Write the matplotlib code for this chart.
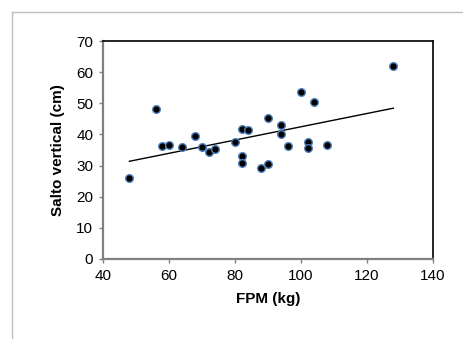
import numpy as np
import matplotlib.pyplot as plt
from matplotlib.lines import Line2D

plt.rcParams['font.family'] = ['Liberation Sans', 'DejaVu Sans']

# FPM (kg) vs salto vertical (cm)
fpm = [48, 56, 58, 60, 64, 68, 70, 72, 74, 80, 82, 84, 82, 82, 88,
       90, 90, 94, 94, 96, 100, 102, 102, 104, 108, 128]
salto = [26.1, 48.3, 36.2, 36.6, 35.9, 39.6, 35.9, 34.5, 35.4, 37.6, 41.6, 41.3, 33.1, 30.8, 29.3,
         30.4, 45.4, 43.0, 40.1, 36.4, 53.5, 37.7, 35.7, 50.5, 36.6, 62.1]
x_ticks = [40, 60, 80, 100, 120, 140]
y_ticks = [0, 10, 20, 30, 40, 50, 60, 70]

fig = plt.figure(figsize=(4.63, 3.39), dpi=100)
ax = fig.add_axes([0.2225, 0.236, 0.7125, 0.643])

# linear trend line
slope, icpt = np.polyfit(fpm, salto, 1)
xl = np.array([min(fpm), max(fpm)])
ax.plot(xl, slope * xl + icpt, color='black', lw=1)

ax.plot(fpm, salto, 'o', color='black', markersize=5.5,
        markeredgecolor='#4f81bd', markeredgewidth=1, zorder=3)

ax.set_xlim(40, 140)
ax.set_ylim(0, 70)
ax.set_xticks(x_ticks)
ax.set_yticks(y_ticks)
ax.tick_params(labelsize=11, length=3, width=1, color='#808080', pad=4)
ax.set_xlabel('FPM (kg)', fontsize=11, fontweight='bold', labelpad=7)
ax.set_ylabel('Salto vertical (cm)', fontsize=11, fontweight='bold', labelpad=8)

ax.spines['left'].set_color('#808080')
ax.spines['left'].set_linewidth(1.6)
ax.spines['bottom'].set_color('#808080')
ax.spines['bottom'].set_linewidth(1.6)
ax.spines['top'].set_linewidth(1.2)
ax.spines['right'].set_linewidth(1.2)

# outer chart frame (only left and top visible)
fx = 11.5 / 463
fy = 1 - 11.5 / 339
fig.add_artist(Line2D([fx, fx], [0, fy], transform=fig.transFigure, color='#bfbfbf', lw=1))
fig.add_artist(Line2D([fx, 1], [fy, fy], transform=fig.transFigure, color='#bfbfbf', lw=1))

fig.savefig('out.png', dpi=100)
